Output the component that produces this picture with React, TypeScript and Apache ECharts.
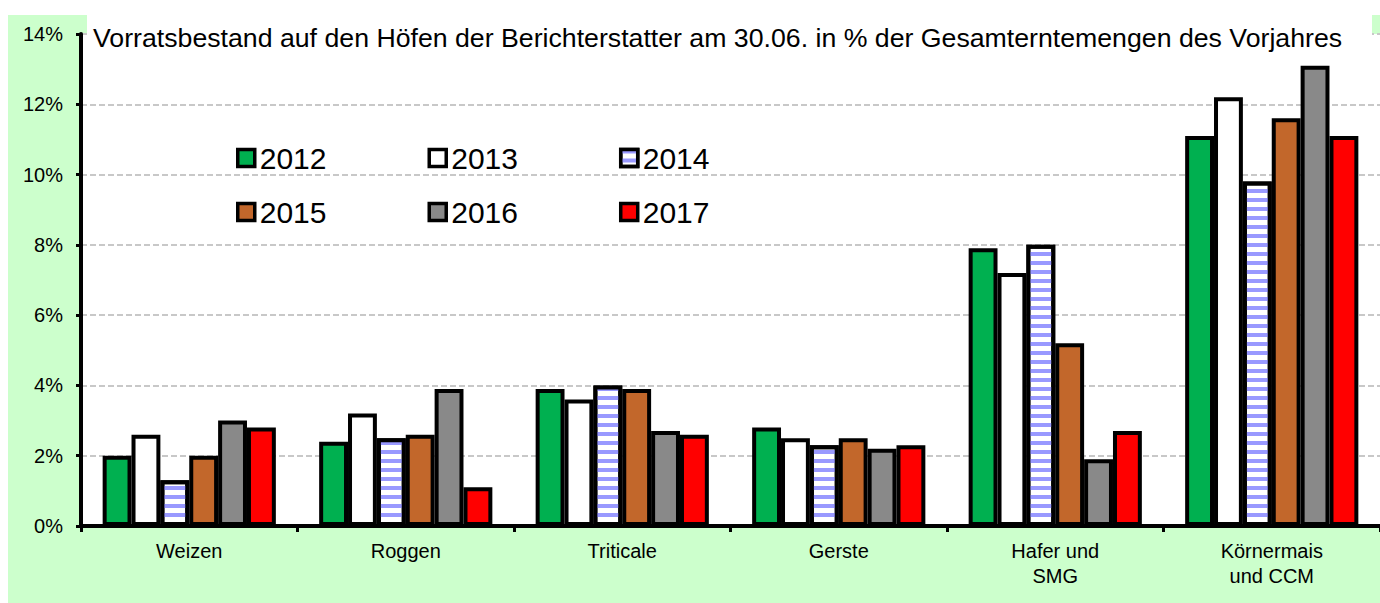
import React, { useEffect, useRef } from 'react';
import * as echarts from 'echarts';

const categories = ['Weizen', 'Roggen', 'Triticale', 'Gerste', 'Hafer und\nSMG', 'Körnermais\nund CCM'];
const years = ['2012', '2013', '2014', '2015', '2016', '2017'];
const v2012 = [2.0, 2.4, 3.9, 2.8, 7.9, 11.1];
const v2013 = [2.6, 3.2, 3.6, 2.5, 7.2, 12.2];
const v2014 = [1.3, 2.5, 4.0, 2.3, 8.0, 9.8];
const v2015 = [2.0, 2.6, 3.9, 2.5, 5.2, 11.6];
const v2016 = [3.0, 3.9, 2.7, 2.2, 1.9, 13.1];
const v2017 = [2.8, 1.1, 2.6, 2.3, 2.7, 11.1];
const seriesValues = [v2012, v2013, v2014, v2015, v2016, v2017];
const yMin = 0;
const yMax = 14;
const yStep = 2;
const titleText = 'Vorratsbestand auf den Höfen der Berichterstatter am 30.06. in % der Gesamterntemengen des Vorjahres';

const FONT = '"Liberation Sans", Arial, sans-serif';
const colors = ['#00b050', '#ffffff', '#ffffff', '#c2672b', '#898989', '#ff0000'];

export default function App() {
  const ref = useRef<HTMLDivElement>(null);
  useEffect(() => {
    if (!ref.current) return;
    const chart = echarts.init(ref.current, undefined, { renderer: 'svg' });
    const stripe = {
      symbol: 'rect',
      symbolSize: 1,
      dashArrayX: [1, 0],
      dashArrayY: [4, 5],
      rotation: 0,
      color: '#9999ff',
    };
    const series = years.map((y, i) => ({
      name: y,
      type: 'bar',
      data: seriesValues[i],
      barGap: '0%',
      barCategoryGap: '20%',
      itemStyle: {
        color: colors[i],
        borderColor: '#000',
        borderWidth: 4,
        ...(i === 2 ? { decal: stripe } : {}),
      },
    }));
    const legendCommon = {
      orient: 'horizontal',
      padding: 0,
      itemWidth: 17,
      itemHeight: 17,
      itemGap: 101,
      icon: 'rect',
      textStyle: { fontSize: 30, fontFamily: FONT, color: '#000' },
      itemStyle: { borderColor: '#000', borderWidth: 3.5 },
      selectedMode: false,
    };
    chart.setOption({
      animation: false,
      backgroundColor: 'transparent',
      textStyle: { fontFamily: FONT },
      graphic: [
        { type: 'rect', z: -20, shape: { x: 8, y: 15, width: 1372, height: 588 }, style: { fill: '#ccffcc' } },
        { type: 'rect', z: -19, shape: { x: 81, y: 34, width: 1310, height: 492 }, style: { fill: '#ffffff' } },
        { type: 'rect', z: 50, shape: { x: 87, y: 15, width: 1285, height: 40 }, style: { fill: '#ffffff' } },
        {
          type: 'text', z: 51, x: 93, y: 38,
          style: { text: titleText, fontSize: 26.7, fontFamily: FONT, fill: '#000', verticalAlign: 'middle', align: 'left' },
        },
      ],
      legend: [
        { ...legendCommon, data: years.slice(0, 3), left: 236, top: 143 },
        { ...legendCommon, data: years.slice(3, 6), left: 236, top: 197 },
      ],
      grid: { left: 81, top: 34, height: 492, width: 1303, containLabel: false },
      xAxis: {
        type: 'category',
        data: categories,
        axisLine: { show: true, lineStyle: { color: '#000', width: 4 } },
        axisTick: { show: true, length: 6, lineStyle: { color: '#000', width: 3 } },
        axisLabel: { fontSize: 20, lineHeight: 25, color: '#000', margin: 12, fontFamily: FONT, interval: 0 },
        splitLine: { show: false },
      },
      yAxis: {
        type: 'value',
        min: yMin,
        max: yMax,
        interval: yStep,
        axisLine: { show: true, lineStyle: { color: '#000', width: 4 } },
        axisTick: { show: true, length: 5, lineStyle: { color: '#000', width: 3 } },
        axisLabel: { fontSize: 20, color: '#000', margin: 18, fontFamily: FONT, formatter: '{value}%' },
        splitLine: { show: true, lineStyle: { color: '#c8c8c8', width: 2, type: [6, 3] } },
      },
      series,
    });
    return () => chart.dispose();
  }, []);
  return (
    <div
      ref={ref}
      style={{ position: 'absolute', left: 0, top: 0, width: 1380, height: 603 }}
    />
  );
}
